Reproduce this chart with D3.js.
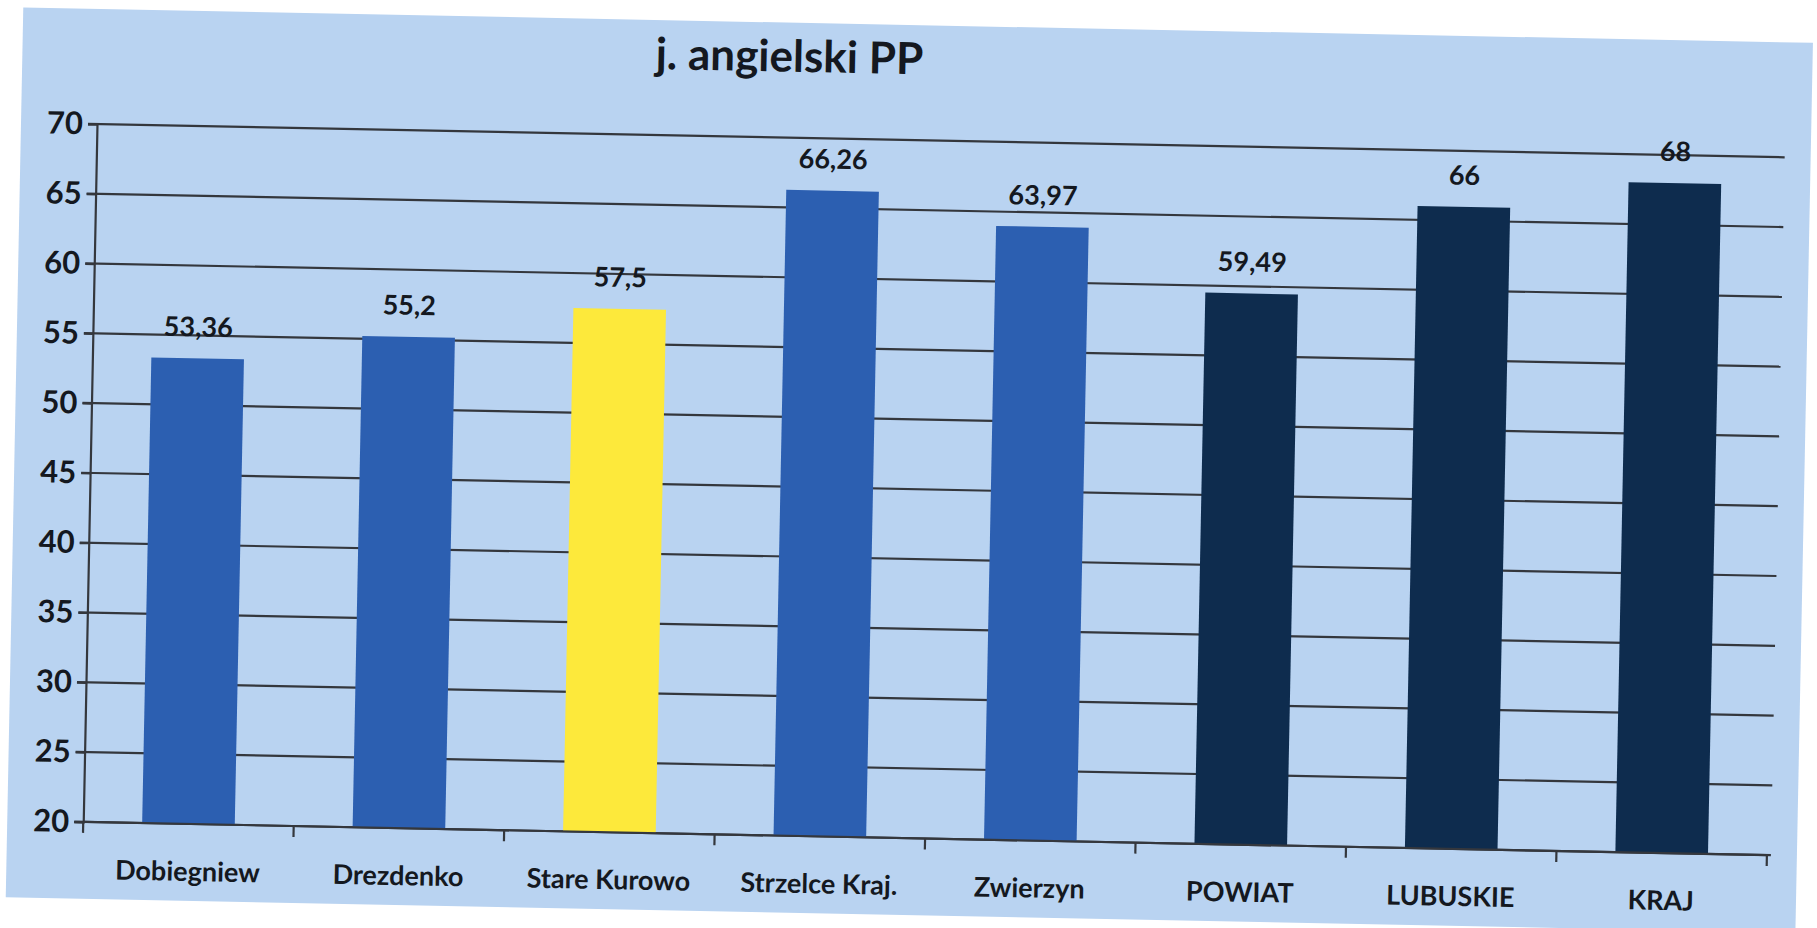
<!DOCTYPE html>
<html>
<head>
<meta charset="utf-8">
<script src="https://cdn.jsdelivr.net/npm/d3@7"></script>
<style>
  html, body { margin: 0; padding: 0; background: #ffffff; }
  svg { display: block; }
  text { font-family: Lato, "Open Sans", sans-serif; font-weight: 700; fill: #141820; }
</style>
</head>
<body>
<div id="chart"></div>
<script>
// data
const categories = ['Dobiegniew', 'Drezdenko', 'Stare Kurowo', 'Strzelce Kraj.', 'Zwierzyn', 'POWIAT', 'LUBUSKIE', 'KRAJ'];
const values = [53.36, 55.2, 57.5, 66.26, 63.97, 59.49, 66, 68];
const groups = ['gmina', 'gmina', 'wybrana', 'gmina', 'gmina', 'zbiorcze', 'zbiorcze', 'zbiorcze'];
const yTicks = [20, 25, 30, 35, 40, 45, 50, 55, 60, 65, 70];
const title = 'j. angielski PP';

const width = 1817;
const height = 928;

// plot frame (before the scan tilt)
const plotLeft = 97, plotRight = 1781, plotTop = 124, plotBottom = 822;
const tilt = 1.13;

const groupColor = {
    gmina: '#2c5fb1',
    wybrana: '#fde93b',
    zbiorcze: '#0e2c4e'
};
const lineColor = '#34373d';

const svg = d3.select('#chart').append('svg')
    .attr('width', width)
    .attr('height', height);

const page = svg.append('g')
    .attr('transform', `rotate(${tilt}, ${plotLeft}, ${plotTop})`);

//panel background
page.append('rect')
    .attr('x', 21)
    .attr('y', 9)
    .attr('width', 1790)
    .attr('height', 890)
    .attr('fill', '#b9d3f1');

const x = d3.scaleBand()
    .domain(categories)
    .range([plotLeft, plotRight])
    .paddingInner(0.56)
    .paddingOuter(0.28);

const y = d3.scaleLinear()
    .domain([20, 70])
    .range([plotBottom, plotTop]);

//gridlines
page.append('g')
    .selectAll('line')
    .data(yTicks)
    .join('line')
    .attr('x1', plotLeft - 9)
    .attr('x2', plotRight + 4)
    .attr('y1', d => y(d))
    .attr('y2', d => y(d))
    .attr('stroke', lineColor)
    .attr('stroke-width', 2.2);

//y axis
const yAxis = page.append('g')
    .attr('transform', `translate(${plotLeft},0)`)
    .call(d3.axisLeft(y).tickValues(yTicks).tickSize(9).tickPadding(5));

yAxis.select('.domain').attr('stroke', lineColor).attr('stroke-width', 2.2);
yAxis.selectAll('.tick line').attr('stroke', lineColor).attr('stroke-width', 2.2);
yAxis.selectAll('.tick text')
    .style('font-size', '31px')
    .style('fill', '#141820')
    .style('font-family', 'Lato, sans-serif')
    .style('font-weight', 700);

//bars
page.append('g')
    .selectAll('rect')
    .data(categories)
    .join('rect')
    .attr('x', d => x(d))
    .attr('width', x.bandwidth())
    .attr('y', (d, i) => y(values[i]))
    .attr('height', (d, i) => y(20) - y(values[i]))
    .attr('fill', (d, i) => groupColor[groups[i]]);

//x axis with boundary ticks between categories
const boundaries = d3.range(categories.length + 1).map(i => plotLeft + i * x.step());

page.append('line')
    .attr('x1', plotLeft)
    .attr('x2', plotRight)
    .attr('y1', plotBottom)
    .attr('y2', plotBottom)
    .attr('stroke', lineColor)
    .attr('stroke-width', 2.2);

page.append('g')
    .selectAll('line')
    .data(boundaries)
    .join('line')
    .attr('x1', d => d)
    .attr('x2', d => d)
    .attr('y1', plotBottom)
    .attr('y2', plotBottom + 11)
    .attr('stroke', lineColor)
    .attr('stroke-width', 2.2);

page.append('g')
    .selectAll('text')
    .data(categories)
    .join('text')
    .attr('x', d => x(d) + x.bandwidth() / 2)
    .attr('y', plotBottom + 57)
    .attr('text-anchor', 'middle')
    .attr('font-size', 27)
    .text(d => d);

//value labels
page.append('g')
    .selectAll('text')
    .data(values)
    .join('text')
    .attr('x', (d, i) => x(categories[i]) + x.bandwidth() / 2)
    .attr('y', d => y(d) - 22)
    .attr('text-anchor', 'middle')
    .attr('font-size', 27)
    .text(d => String(d).replace('.', ','));

//title
page.append('text')
    .attr('x', 788)
    .attr('y', 58)
    .attr('text-anchor', 'middle')
    .attr('font-size', 44)
    .text(title);
</script>
</body>
</html>
